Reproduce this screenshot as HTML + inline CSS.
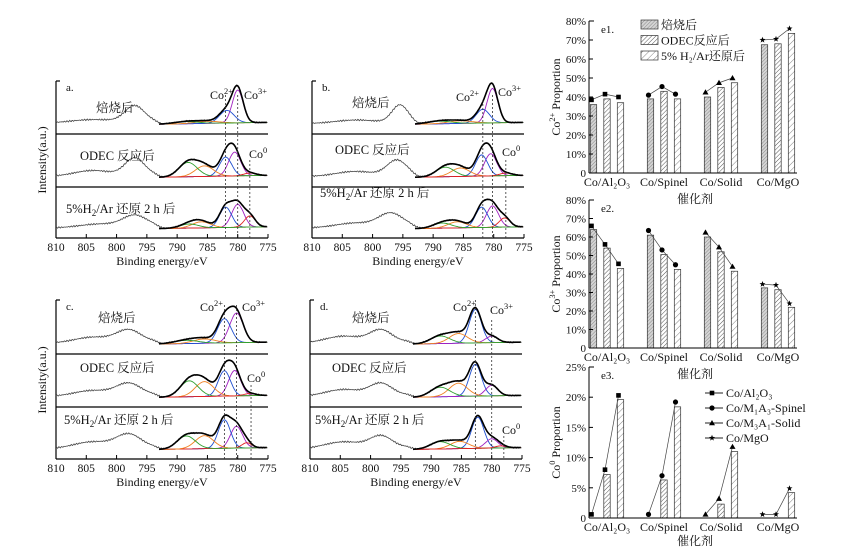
<!DOCTYPE html>
<html><head><meta charset="utf-8">
<style>
body{margin:0;background:#fff;}
svg{display:block;font-family:"Liberation Serif","Noto Serif CJK SC",serif;}
</style></head>
<body>
<svg id="fig" width="855" height="559" viewBox="0 0 855 559" xmlns="http://www.w3.org/2000/svg">
<defs>
<pattern id="h1" width="2.5" height="2.5" patternUnits="userSpaceOnUse" patternTransform="rotate(45)"><rect width="2.5" height="2.5" fill="#d4d4d4"/><line x1="0" y1="0" x2="0" y2="2.5" stroke="#777" stroke-width="0.8"/></pattern>
<pattern id="h2" width="3" height="3" patternUnits="userSpaceOnUse" patternTransform="rotate(45)"><rect width="3" height="3" fill="#fff"/><line x1="0" y1="0" x2="0" y2="3" stroke="#555" stroke-width="1"/></pattern>
<pattern id="h3" width="4.5" height="4.5" patternUnits="userSpaceOnUse" patternTransform="rotate(45)"><rect width="4.5" height="4.5" fill="#fff"/><line x1="0" y1="0" x2="0" y2="4.5" stroke="#777" stroke-width="0.9"/></pattern>
</defs>
</svg>
<script>
// ---------- bar chart data ----------
const categories = ['Co/Al₂O₃','Co/Spinel','Co/Solid','Co/MgO'];
const e1Bars = [[36,39,37],[39,43,39],[40,45,47.5],[67.5,68,73.5]];
const e1Marks = [[38.5,41.5,40],[41,45.5,41.5],[42.5,47.5,50],[70,70.5,76]];
const e2Bars = [[64,54,43],[61,50.5,42.5],[60,52,41.5],[32.5,31.5,22]];
const e2Marks = [[66,56,45.5],[63.5,53,45],[62.5,54.5,44],[34.5,34,24]];
const e3Bars = [[0,7.2,19.6],[0,6.3,18.4],[0,2.3,11],[0,0,4.2]];
const e3Marks = [[0.6,8,20.3],[0.6,7,19.2],[0.6,3.2,11.8],[0.6,0.6,4.9]];
const e1Ticks = ['0','10%','20%','30%','40%','50%','60%','70%','80%'];
const e3Ticks = ['0','5%','10%','15%','20%','25%'];
const markerShapes = ['square','circle','triangle','star'];

const NS='http://www.w3.org/2000/svg';
const svg=document.getElementById('fig');
function el(tag,attrs,parent){const e=document.createElementNS(NS,tag);for(const k in attrs)e.setAttribute(k,attrs[k]);(parent||svg).appendChild(e);return e;}
function txt(x,y,s,size,anchor,parent){const t=el('text',{x:x,y:y,'font-size':size||12,'text-anchor':anchor||'start',fill:'#111'},parent);t.textContent=s;return t;}
function supTxt(x,y,base,sup,size,parent,anchor){const t=el('text',{x:x,y:y,'font-size':size,fill:'#111','text-anchor':anchor||'start'},parent);t.appendChild(document.createTextNode(base));const s=el('tspan',{dy:-5,'font-size':size*0.7},t);s.textContent=sup;return t;}

function marker(g,shape,x,y){
  if(shape==='square')el('rect',{x:x-2.3,y:y-2.3,width:4.6,height:4.6,fill:'#000'},g);
  else if(shape==='circle')el('circle',{cx:x,cy:y,r:2.6,fill:'#000'},g);
  else if(shape==='triangle')el('polygon',{points:`${x},${y-3} ${x-3},${y+2.2} ${x+3},${y+2.2}`,fill:'#000'},g);
  else {let p=[];for(let i=0;i<10;i++){const r=i%2?1.3:3.2,a=-Math.PI/2+i*Math.PI/5;p.push((x+r*Math.cos(a)).toFixed(1)+','+(y+r*Math.sin(a)).toFixed(1));}el('polygon',{points:p.join(' '),fill:'#000'},g);}
}

function barChart(name,bars,marks,ticks,maxV,top,bottom,label,ytitleBase,ytitleSup){
  const g=el('g',{});
  const x0=589,x1=797;
  const yS=v=>bottom-(v/maxV)*(bottom-top);
  const catX=i=>607+i*57;
  const barOff=[-13.5,0,13.5];
  const pats=['url(#h1)','url(#h2)','url(#h3)'];
  bars.forEach((b,i)=>b.forEach((v,j)=>{
    if(v<=0)return;
    const r=el('rect',{x:catX(i)+barOff[j]-3.2,y:yS(v),width:6.4,height:bottom-yS(v),fill:pats[j],stroke:'#333','stroke-width':0.7},g);
    
    
  }));
  marks.forEach((m,i)=>{
    const pts=m.map((v,j)=>[catX(i)+barOff[j]-2,yS(v)]);
    el('polyline',{points:pts.map(p=>p.join(',')).join(' '),fill:'none',stroke:'#444','stroke-width':0.7},g);
    pts.forEach(p=>marker(g,markerShapes[i],p[0],p[1]));
  });
  el('line',{x1:x0,y1:top,x2:x0,y2:bottom,stroke:'#000','stroke-width':1},g);
  el('line',{x1:x0,y1:bottom,x2:x1,y2:bottom,stroke:'#000','stroke-width':1},g);
  el('line',{x1:x0,y1:top,x2:x0+5,y2:top,stroke:'#000'},g);
  ticks.forEach((t,k)=>{
    const v=k*maxV/(ticks.length-1),y=yS(v);
    el('line',{x1:x0,y1:y,x2:x0+4,y2:y,stroke:'#000'},g);
    txt(x0-3,y+4,t,11,'end',g);
  });
  categories.forEach((c,i)=>txt(catX(i),bottom+13,c,12,'middle',g));
  txt(x0+12,top+12,label,11,'start',g);
  const yt=el('g',{transform:`translate(560,${(top+bottom)/2}) rotate(-90)`},g);
  const tt=supTxt(0,0,ytitleBase,ytitleSup,12,yt,'middle');
  const t2=el('tspan',{dy:5},tt); t2.textContent=' Proportion';
  return g;
}
barChart('e1-chart',e1Bars,e1Marks,e1Ticks,80,21,173,'e1.','Co','2+');
txt(695,203,'催化剂',12,'middle');
barChart('e2-chart',e2Bars,e2Marks,e1Ticks,80,200,348,'e2.','Co','3+');
txt(695,378,'催化剂',12,'middle');
barChart('e3-chart',e3Bars,e3Marks,e3Ticks,25,367,518,'e3.','Co','0');
txt(695,545,'催化剂',12,'middle');

const lg1=el('g',{});
['焙烧后','ODEC反应后','5% H₂/Ar还原后'].forEach((s,i)=>{
  const y=20+i*15.5;
  el('rect',{x:641,y:y,width:17,height:9,fill:['url(#h1)','url(#h2)','url(#h3)'][i],stroke:'#333','stroke-width':0.7},lg1);
  txt(661,y+9,s,12,'start',lg1);
});
const lg3=el('g',{});
['Co/Al₂O₃','Co/M₁A₃-Spinel','Co/M₃A₁-Solid','Co/MgO'].forEach((s,i)=>{
  const y=393+i*15;
  el('line',{x1:705,y1:y,x2:723,y2:y,stroke:'#222'},lg3);
  marker(lg3,markerShapes[i],712,y);
  txt(726,y+4,s,12,'start',lg3);
});

// ---------- XPS spectra ----------
const beTicks=[810,805,800,795,790,785,780,775];
const panelA=[
 {raw:[[797,0.3,1.6],[804,0.06,4]],fit:[[780,0.62,0.9,'#a020c0'],[781.8,0.24,1.2,'#1f4fd0'],[785,0.04,2,'#f08020'],[788.5,0.04,2,'#30a030']]},
 {raw:[[797,0.32,1.6],[804,0.1,3]],fit:[[780.5,0.45,1,'#a020c0'],[782,0.36,1,'#1f4fd0'],[785.5,0.2,1.5,'#f08020'],[788.2,0.27,1.5,'#30a030'],[778,0.05,1,'#e02020']]},
 {raw:[[797,0.22,2],[803,0.06,3]],fit:[[780,0.45,1,'#a020c0'],[782,0.4,1,'#1f4fd0'],[778,0.22,0.9,'#e02020'],[786,0.12,1.5,'#f08020'],[788,0.08,1.5,'#30a030']]}];
const panelB=[
 {raw:[[795.5,0.32,1.3],[803,0.05,3]],fit:[[780.2,0.65,0.9,'#a020c0'],[781.8,0.26,1.1,'#1f4fd0'],[785.5,0.05,2,'#f08020'],[789,0.05,2,'#30a030']]},
 {raw:[[796,0.28,1.6],[803,0.08,3]],fit:[[780.5,0.42,1,'#a020c0'],[782,0.4,1,'#1f4fd0'],[785.5,0.16,1.5,'#f08020'],[788,0.18,1.5,'#30a030'],[778,0.05,1,'#e02020']]},
 {raw:[[797,0.26,2],[803,0.08,3]],fit:[[780.2,0.42,1,'#a020c0'],[782,0.4,1,'#1f4fd0'],[778.2,0.18,0.9,'#e02020'],[786,0.12,1.5,'#f08020'],[788.5,0.1,1.5,'#30a030']]}];
const panelC=[
 {raw:[[798,0.22,2],[804,0.1,3]],fit:[[780.2,0.55,1.1,'#a020c0'],[782.2,0.45,1.1,'#1f4fd0'],[785.5,0.08,1.8,'#f08020'],[788.5,0.06,2,'#30a030']]},
 {raw:[[798,0.22,2],[804,0.1,3]],fit:[[780.5,0.48,1,'#a020c0'],[782.2,0.48,1,'#1f4fd0'],[785.5,0.28,1.5,'#f08020'],[788,0.3,1.5,'#30a030'],[778,0.04,1,'#e02020']]},
 {raw:[[798,0.25,2],[804,0.12,3]],fit:[[780.2,0.42,1,'#a020c0'],[782.2,0.55,1,'#1f4fd0'],[778.5,0.1,0.8,'#e02020'],[785.5,0.25,1.5,'#f08020'],[788.5,0.25,1.5,'#30a030']]}];
const panelD=[
 {raw:[[798.3,0.22,1.8],[804.5,0.12,3]],fit:[[782.7,0.62,1,'#1f4fd0'],[780,0.12,1,'#a020c0'],[785.5,0.18,1.5,'#f08020'],[788.5,0.14,1.6,'#30a030']]},
 {raw:[[798.3,0.22,1.8],[804.5,0.12,3]],fit:[[782.7,0.6,1,'#1f4fd0'],[780,0.2,1,'#a020c0'],[785.5,0.25,1.5,'#f08020'],[788.5,0.18,1.6,'#30a030']]},
 {raw:[[798.3,0.22,1.8],[804.5,0.12,3]],fit:[[782.3,0.6,1,'#1f4fd0'],[780,0.18,1,'#a020c0'],[785.3,0.14,1.5,'#f08020'],[788.5,0.14,1.6,'#30a030'],[778.5,0.04,0.9,'#e02020']]}];

const gauss=(x,c,h,s)=>h*Math.exp(-((x-c)*(x-c))/(2*s*s));
function noise(x,k){return 0.015*(Math.sin(x*37.1+k)*0.6+Math.sin(x*91.7+2*k)*0.4);}

function xpsPanel(name,rows,x0,x1,top,bottom,divs,letter,labels,dashes){
  const g=el('g',{});
  const xS=be=>x0+(810-be)/35*(x1-x0);
  el('line',{x1:x0,y1:top,x2:x0,y2:bottom,stroke:'#000','stroke-width':1.2},g);
  el('line',{x1:x0,y1:bottom,x2:x1,y2:bottom,stroke:'#000','stroke-width':1.2},g);
  el('line',{x1:x0,y1:top,x2:x0+4,y2:top,stroke:'#000','stroke-width':1.2},g);
  const bounds=[top,divs[0],divs[1],bottom];
  divs.forEach(d=>el('line',{x1:x0,y1:d,x2:x1,y2:d,stroke:'#000','stroke-width':1.2},g));
  rows.forEach((r,ri)=>{
    const t=bounds[ri],b=bounds[ri+1],H=b-t;
    const base=be=>b-0.22*H+(be-775)*0.002*H;
    const yOf=(be,v)=>base(be)-v*H;
    let p=[];
    for(let be=810;be>=775;be-=0.12){
      let v=0.05+noise(be,ri);
      if(be<794) v-=0.05*Math.min(1,(794-be)/1.5);
      r.raw.forEach(q=>v+=gauss(be,q[0],q[1],q[2]));
      r.fit.forEach(q=>v+=gauss(be,q[0],q[1],q[2]));
      p.push(xS(be).toFixed(1)+','+yOf(be,v).toFixed(1));
    }
    el('polyline',{points:p.join(' '),fill:'none',stroke:'#444','stroke-width':0.8},g);
    r.fit.forEach(q=>{
      let pp=[];
      for(let be=793;be>=775;be-=0.2)pp.push(xS(be).toFixed(1)+','+yOf(be,gauss(be,q[0],q[1],q[2])).toFixed(1));
      el('polyline',{points:pp.join(' '),fill:'none',stroke:q[3],'stroke-width':0.9},g);
    });
    let env=[];
    for(let be=793;be>=775;be-=0.2){let v=0;r.fit.forEach(q=>v+=gauss(be,q[0],q[1],q[2]));env.push(xS(be).toFixed(1)+','+yOf(be,v).toFixed(1));}
    el('polyline',{points:env.join(' '),fill:'none',stroke:'#000','stroke-width':1.6},g);
  });
  dashes.forEach(d=>el('line',{x1:xS(d[0]),y1:d[1],x2:xS(d[0]),y2:bottom,stroke:'#333','stroke-width':0.8,'stroke-dasharray':'2,2'},g));
  beTicks.forEach(be=>{
    el('line',{x1:xS(be),y1:bottom,x2:xS(be),y2:bottom-4,stroke:'#000'},g);
    txt(xS(be),bottom+13,String(be),11.5,'middle',g);
  });
  txt((x0+x1)/2,bottom+27,'Binding energy/eV',12,'middle',g);
  txt(x0+10,top+10,letter,11,'start',g);
  const L=labels;
  txt(L.s1[0],L.s1[1],'焙烧后',12.5,'start',g);
  txt(L.s2[0],L.s2[1],'ODEC 反应后',12.5,'start',g);
  const t3=el('text',{x:L.s3[0],y:L.s3[1],'font-size':12.5,fill:'#111'},g);
  t3.appendChild(document.createTextNode('5%H'));const sb=el('tspan',{dy:3,'font-size':9},t3);sb.textContent='2';
  const rest=el('tspan',{dy:-3},t3);rest.textContent='/Ar 还原 2 h 后';
  supTxt(L.c2[0],L.c2[1],'Co','2+',12,g);
  supTxt(L.c3[0],L.c3[1],'Co','3+',12,g);
  supTxt(L.c0[0],L.c0[1],'Co','0',12,g);
  return g;
}
xpsPanel('xps-panel-a',panelA,56,268,81,238,[134,187],'a.',{s1:[96,112],s2:[80,160],s3:[66,213],c2:[210,99],c3:[244,99],c0:[249,158]},[[782,95],[780,95],[778,160]]);
xpsPanel('xps-panel-b',panelB,312,524,81,238,[134,187],'b.',{s1:[352,107],s2:[335,154],s3:[320,197],c2:[456,101],c3:[498,96],c0:[502,156]},[[781.8,100],[780.2,95],[778,160]]);
xpsPanel('xps-panel-c',panelC,56,268,300,459,[354,407],'c.',{s1:[98,322],s2:[80,372],s3:[64,424],c2:[200,311],c3:[242,311],c0:[247,382]},[[782.2,305],[780.2,305],[777.8,385]]);
xpsPanel('xps-panel-d',panelD,310,522,300,459,[354,407],'d.',{s1:[352,322],s2:[332,372],s3:[315,424],c2:[453,311],c3:[490,314],c0:[502,434]},[[782.7,300],[780,320],[778,436]]);
[160,380].forEach((cy,i)=>{
  const t=el('text',{transform:`translate(46,${cy}) rotate(-90)`,'font-size':12,'text-anchor':'middle',fill:'#111'});
  
  
  t.textContent='Intensity(a.u.)';
});
</script>
</body></html>
